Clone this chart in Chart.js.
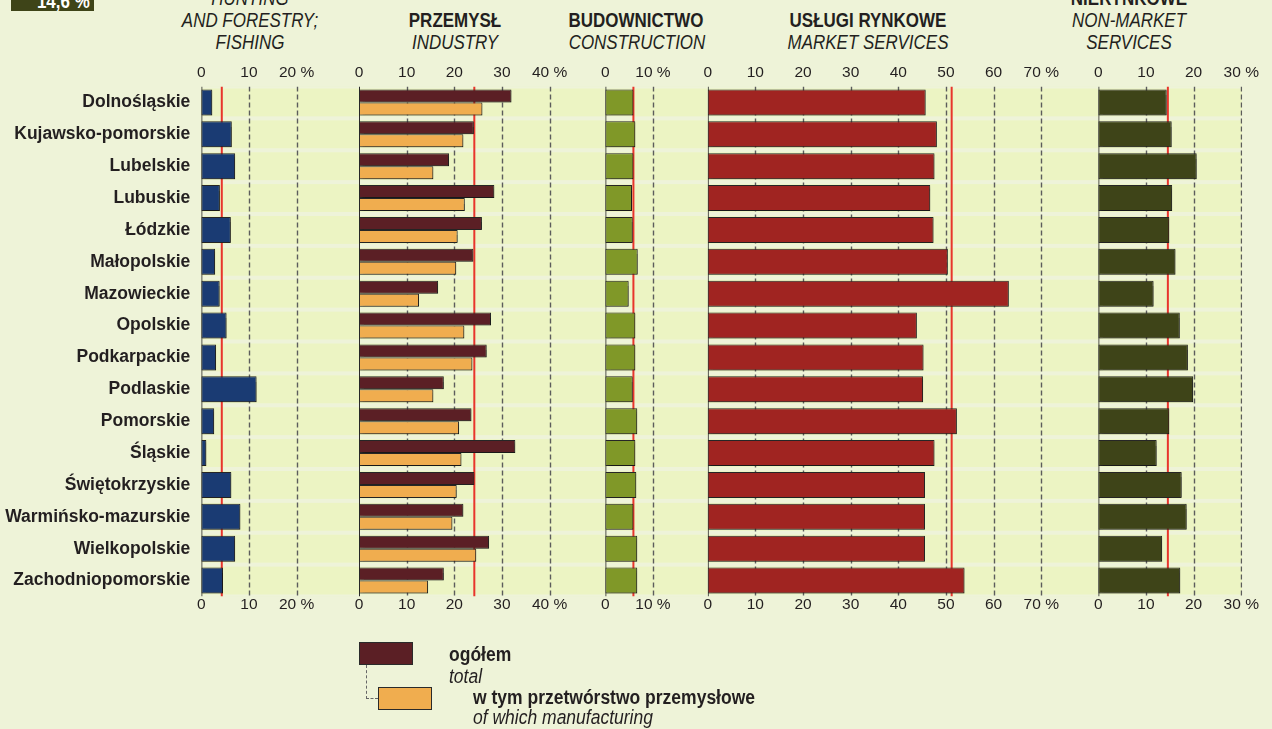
<!DOCTYPE html>
<html lang="pl">
<head>
<meta charset="utf-8">
<script src="https://cdn.jsdelivr.net/npm/chart.js@4.4.1/dist/chart.umd.min.js"></script>
<style>
  html, body { margin: 0; padding: 0; }
  body { width: 1272px; height: 729px; overflow: hidden; background: #eef3d8; position: relative;
         font-family: 'Liberation Sans', Arial, sans-serif; color: #231f20; }
  canvas { position: absolute; left: 0; top: 0; }
  .hd { position: absolute; width: 300px; text-align: center; font-size: 19.5px; line-height: 22px; white-space: nowrap;
        transform: scaleX(0.87); transform-origin: 50% 50%; }
  .b { font-weight: bold; }
  .i { font-style: italic; }
  .lg { position: absolute; font-size: 20px; line-height: 22px; white-space: nowrap;
        transform: scaleX(0.875); transform-origin: 0 50%; }
</style>
</head>
<body>
<div id="avgbox" style="position:absolute;left:11px;top:-10px;width:83px;height:21px;background:#3e4418;">
  <div style="position:absolute;right:4px;top:0;color:#fff;font-weight:bold;font-size:19.5px;line-height:22px;white-space:nowrap;transform:scaleX(0.87);transform-origin:100% 50%;">14,6 %</div>
</div>

<div class="hd i" style="left:100px;top:-12.8px;">HUNTING</div>
<div class="hd i" style="left:100px;top:9.2px;">AND FORESTRY;</div>
<div class="hd i" style="left:100px;top:31.2px;">FISHING</div>

<div class="hd b" style="left:305px;top:9.2px;">PRZEMYSŁ</div>
<div class="hd i" style="left:305px;top:31.2px;">INDUSTRY</div>

<div class="hd b" style="left:486px;top:9.2px;">BUDOWNICTWO</div>
<div class="hd i" style="left:487px;top:31.2px;">CONSTRUCTION</div>

<div class="hd b" style="left:718px;top:9.2px;">USŁUGI RYNKOWE</div>
<div class="hd i" style="left:718px;top:31.2px;">MARKET SERVICES</div>

<div class="hd b" style="left:979px;top:-12.8px;">NIERYNKOWE</div>
<div class="hd i" style="left:979px;top:9.2px;">NON-MARKET</div>
<div class="hd i" style="left:979px;top:31.2px;">SERVICES</div>

<canvas id="c1" width="1272" height="729"></canvas>
<canvas id="c2" width="1272" height="729"></canvas>
<canvas id="c3" width="1272" height="729"></canvas>
<canvas id="c4" width="1272" height="729"></canvas>
<canvas id="c5" width="1272" height="729"></canvas>

<!-- legend -->
<div style="position:absolute;left:359px;top:642px;width:52px;height:21px;background:#5b1f25;border:1px solid #2a2a2a;"></div>
<div style="position:absolute;left:366px;top:665px;width:11px;height:33px;border-left:1px dashed #666;border-bottom:1px dashed #666;"></div>
<div style="position:absolute;left:378px;top:687px;width:52px;height:21px;background:#f0ad4f;border:1px solid #2a2a2a;"></div>
<div class="lg b" style="left:449px;top:643px;">ogółem</div>
<div class="lg i" style="left:449px;top:665px;">total</div>
<div class="lg b" style="left:473px;top:686px;">w tym przetwórstwo przemysłowe</div>
<div class="lg i" style="left:473px;top:706px;">of which manufacturing</div>

<script>
// ---------------- DATA ----------------
const REGIONS = ['Dolnośląskie', 'Kujawsko-pomorskie', 'Lubelskie', 'Lubuskie', 'Łódzkie',
  'Małopolskie', 'Mazowieckie', 'Opolskie', 'Podkarpackie', 'Podlaskie', 'Pomorskie',
  'Śląskie', 'Świętokrzyskie', 'Warmińsko-mazurskie', 'Wielkopolskie', 'Zachodniopomorskie'];

const AGRICULTURE    = [2.3, 6.4, 7.1, 3.9, 6.2, 2.9, 3.85, 5.3, 3.1, 11.6, 2.7, 1.05, 6.3, 8.2, 7.1, 4.55];
const INDUSTRY_TOTAL = [32.0, 24.1, 18.9, 28.4, 25.8, 24.0, 16.6, 27.7, 26.8, 17.8, 23.6, 32.8, 24.2, 21.9, 27.3, 17.8];
const MANUFACTURING  = [25.9, 21.9, 15.6, 22.2, 20.7, 20.4, 12.6, 22.1, 23.8, 15.6, 21.0, 21.5, 20.5, 19.6, 24.6, 14.5];
const CONSTRUCTION   = [5.9, 6.3, 5.9, 5.6, 5.75, 6.8, 4.9, 6.3, 6.3, 5.75, 6.7, 6.3, 6.5, 5.9, 6.7, 6.7];
const MARKET_SERV    = [45.75, 48.1, 47.6, 46.7, 47.4, 50.4, 63.2, 43.9, 45.3, 45.2, 52.3, 47.6, 45.6, 45.6, 45.6, 53.9];
const NONMARKET_SERV = [14.35, 15.4, 20.65, 15.5, 14.9, 16.2, 11.6, 17.1, 18.8, 19.9, 14.9, 12.25, 17.5, 18.55, 13.4, 17.2];

// Poland averages (red lines)
const AVG_AGRICULTURE = 4.3;
const AVG_INDUSTRY = 24.2;
const AVG_CONSTRUCTION = 5.9;
const AVG_MARKET = 51.2;
const AVG_NONMARKET = 14.6;

// tick values per panel
const TICKS_AGRICULTURE = [0, 10, 20];
const TICKS_INDUSTRY = [0, 10, 20, 30, 40];
const TICKS_CONSTRUCTION = [0, 10];
const TICKS_MARKET = [0, 10, 20, 30, 40, 50, 60, 70];
const TICKS_NONMARKET = [0, 10, 20, 30];

// ---------------- LAYOUT / STYLE ----------------
const W = 1272, H = 729;
const PX = 4.765;            // pixels per percentage point (same in all panels)
const AREA_TOP = 86.5, AREA_BOTTOM = 596.5;
const FONT = "'Liberation Sans', Arial, sans-serif";
const TEXT = '#231f20';
const BAND = '#ecf4c3';
const STRIPE = '#eef3d9';
const RED = '#e8352c';

const panelDecor = {
  id: 'panelDecor',
  beforeDatasetsDraw(chart, args, o) {
    const { ctx, chartArea: a, scales } = chart;
    const x = scales.x, y = scales.y;
    ctx.save();
    ctx.beginPath();
    ctx.rect(a.left, a.top, a.right - a.left, a.bottom - a.top);
    ctx.clip();
    ctx.fillStyle = BAND;
    ctx.fillRect(a.left, a.top, a.right - a.left, a.bottom - a.top);
    ctx.fillStyle = STRIPE;
    const n = chart.data.labels.length;
    for (let i = 0; i <= n; i++) {
      const py = y.getPixelForValue(i - 0.5);
      ctx.fillRect(a.left, py - 2, a.right - a.left, 4);
    }
    // dashed grid at ticks (not at zero)
    ctx.strokeStyle = '#5c5c5c';
    ctx.lineWidth = 1.4;
    ctx.setLineDash([5, 3]);
    o.ticks.forEach(v => {
      if (v === 0) return;
      const px = Math.round(x.getPixelForValue(v)) + 0.5;
      ctx.beginPath(); ctx.moveTo(px, a.top); ctx.lineTo(px, a.bottom); ctx.stroke();
    });
    ctx.setLineDash([]);
    // zero line
    ctx.strokeStyle = '#2a2a2a';
    ctx.lineWidth = 1;
    const p0 = x.getPixelForValue(0);
    ctx.beginPath(); ctx.moveTo(p0 + 0.5, a.top); ctx.lineTo(p0 + 0.5, a.bottom); ctx.stroke();
    // national average
    ctx.strokeStyle = RED;
    ctx.lineWidth = 2;
    const pa = x.getPixelForValue(o.avg);
    ctx.beginPath(); ctx.moveTo(pa, a.top); ctx.lineTo(pa, a.bottom); ctx.stroke();
    ctx.restore();
  },
  beforeDatasetDraw(chart) {
    const ctx = chart.ctx;
    ctx.save();
    ctx.shadowColor = 'rgba(0,0,0,0.35)';
    ctx.shadowOffsetX = 1.5;
    ctx.shadowOffsetY = 1.5;
    ctx.shadowBlur = 1.5;
  },
  afterDatasetDraw(chart) {
    chart.ctx.restore();
  }
};

function tickLabel(ticks) {
  return function (v) {
    const last = ticks[ticks.length - 1];
    return v === last ? v + ' %' : String(v);
  };
}

function xAxis(position, max, ticks, height, padding) {
  return {
    type: 'linear', position, min: 0, max,
    grid: { display: false, drawTicks: false },
    border: { display: false },
    ticks: {
      autoSkip: false, maxRotation: 0, padding,
      color: TEXT, font: { family: FONT, size: 15.5, lineHeight: 1 },
      callback: tickLabel(ticks)
    },
    afterBuildTicks(s) { s.ticks = ticks.map(v => ({ value: v })); },
    afterFit(s) { s.height = height; }
  };
}

function panel(canvasId, left, max, ticks, avg, datasets, showLabels) {
  const right = W - (left + max * PX);
  return new Chart(document.getElementById(canvasId), {
    type: 'bar',
    data: { labels: REGIONS, datasets },
    options: {
      indexAxis: 'y',
      responsive: false,
      animation: false,
      events: [],
      layout: { padding: { left: showLabels ? 0 : left, right, top: 0, bottom: 0 } },
      datasets: { bar: { categoryPercentage: 0.816, barPercentage: 1, borderWidth: 1,
                         borderColor: '#262626', borderSkipped: false } },
      scales: {
        y: {
          type: 'category', display: showLabels, offset: true,
          grid: { display: false, drawTicks: false }, border: { display: false },
          ticks: { padding: 11, color: TEXT, font: { family: FONT, size: 17.5, weight: 'bold' } },
          afterFit(s) { if (showLabels) s.width = left; }
        },
        x: xAxis('top', max, ticks, AREA_TOP, 6),
        x2: xAxis('bottom', max, ticks, H - AREA_BOTTOM, 0.5)
      },
      plugins: {
        legend: { display: false },
        tooltip: { enabled: false },
        panelDecor: { ticks, avg }
      }
    },
    plugins: [panelDecor]
  });
}

panel('c1', 201.3, 33.1, TICKS_AGRICULTURE, AVG_AGRICULTURE,
  [{ label: 'Rolnictwo', data: AGRICULTURE, backgroundColor: '#1a3b73' }], true);
panel('c2', 359.0, 51.7, TICKS_INDUSTRY, AVG_INDUSTRY,
  [{ label: 'ogółem', data: INDUSTRY_TOTAL, backgroundColor: '#5b1f25' },
   { label: 'w tym przetwórstwo przemysłowe', data: MANUFACTURING, backgroundColor: '#f0ad4f' }], false);
panel('c3', 605.3, 21.5, TICKS_CONSTRUCTION, AVG_CONSTRUCTION,
  [{ label: 'Budownictwo', data: CONSTRUCTION, backgroundColor: '#809828' }], false);
panel('c4', 707.7, 82.0, TICKS_MARKET, AVG_MARKET,
  [{ label: 'Usługi rynkowe', data: MARKET_SERV, backgroundColor: '#a02421' }], false);
panel('c5', 1098.3, 30.2, TICKS_NONMARKET, AVG_NONMARKET,
  [{ label: 'Usługi nierynkowe', data: NONMARKET_SERV, backgroundColor: '#3e4418' }], false);
</script>
</body>
</html>
